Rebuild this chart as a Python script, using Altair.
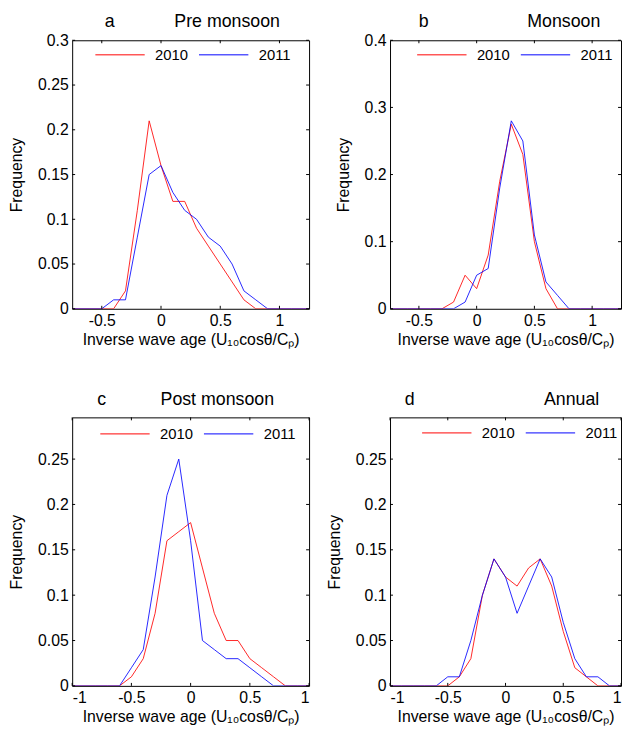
import altair as alt
import pandas as pd

# histogram bin centres (inverse wave age)
bins = [-1.0, -0.9, -0.8, -0.7, -0.6, -0.5, -0.4, -0.3, -0.2, -0.1, 0.0, 0.1, 0.2,
        0.3, 0.4, 0.5, 0.6, 0.7, 0.8, 0.9, 1.0, 1.1, 1.2, 1.3, 1.4, 1.5]

# a  Pre monsoon
pre_2010 = [0, 0, 0, 0, 0, 0, 0, 0.02, 0.11, 0.21, 0.16, 0.12, 0.12,
            0.09, 0.07, 0.05, 0.03, 0.01, 0, 0, 0, 0, 0, 0, 0, 0]
pre_2011 = [0, 0, 0, 0, 0, 0, 0.01, 0.01, 0.08, 0.15, 0.16, 0.13, 0.11,
            0.10, 0.08, 0.07, 0.05, 0.02, 0.01, 0, 0, 0, 0, 0, 0, 0]
# b  Monsoon
mon_2010 = [0, 0, 0, 0, 0, 0, 0, 0, 0.01, 0.05, 0.03, 0.08, 0.19,
            0.275, 0.23, 0.10, 0.03, 0, 0, 0, 0, 0, 0, 0, 0, 0]
mon_2011 = [0, 0, 0, 0, 0, 0, 0, 0, 0, 0.01, 0.05, 0.06, 0.18,
            0.28, 0.25, 0.11, 0.04, 0.02, 0, 0, 0, 0, 0, 0, 0, 0]
# c  Post monsoon
post_2010 = [0, 0, 0, 0, 0, 0.01, 0.03, 0.08, 0.16, 0.17, 0.18, 0.13, 0.08,
             0.05, 0.05, 0.03, 0.02, 0.01, 0, 0, 0, 0, 0, 0, 0, 0]
post_2011 = [0, 0, 0, 0, 0, 0.02, 0.04, 0.12, 0.21, 0.25, 0.16, 0.05, 0.04,
             0.03, 0.03, 0.02, 0.01, 0, 0, 0, 0, 0, 0, 0, 0, 0]
# d  Annual
ann_2010 = [0, 0, 0, 0, 0, 0, 0.01, 0.03, 0.10, 0.14, 0.12, 0.11, 0.13,
            0.14, 0.11, 0.06, 0.02, 0.01, 0, 0, 0, 0, 0, 0, 0, 0]
ann_2011 = [0, 0, 0, 0, 0, 0.01, 0.01, 0.05, 0.10, 0.14, 0.12, 0.08, 0.11,
            0.14, 0.12, 0.07, 0.03, 0.01, 0.01, 0, 0, 0, 0, 0, 0, 0]

years = ["2010", "2011"]
xticks_ab = [-0.5, 0, 0.5, 1]
xticks_cd = [-1, -0.5, 0, 0.5, 1]
yticks_a = [0, 0.05, 0.1, 0.15, 0.2, 0.25, 0.3]
yticks_b = [0, 0.1, 0.2, 0.3, 0.4]
yticks_cd = [0, 0.05, 0.1, 0.15, 0.2, 0.25]

XTITLE = "Inverse wave age (U\u2081\u2080cos\u03b8/C\u209a)"
FONT = "Liberation Sans"
H = 272
LABEL_EXPR = ("datum.value < 0 ? '-' + format(-datum.value, '~g') "
              ": format(datum.value, '~g')")


def panel(letter, name, s10, s11, xdom, ydom, xticks, yticks,
          letter_x, name_x, leg_x, leg_y, W):
    df = pd.DataFrame({
        "x": bins + bins,
        "y": s10 + s11,
        "year": [years[0]] * len(bins) + [years[1]] * len(bins),
    })
    xs = alt.Scale(domain=xdom, nice=False, zero=False)
    ys = alt.Scale(domain=ydom, nice=False, zero=False)
    lines = alt.Chart(df).mark_line(clip=True, strokeWidth=1, strokeOpacity=0.85).encode(
        x=alt.X("x:Q", scale=xs,
                axis=alt.Axis(values=xticks, labelExpr=LABEL_EXPR, title=XTITLE)),
        y=alt.Y("y:Q", scale=ys,
                axis=alt.Axis(values=yticks, format="~g", title="Frequency")),
        color=alt.Color("year:N",
                        scale=alt.Scale(domain=years, range=["#ff0000", "#0000ff"]),
                        legend=alt.Legend(title=None, orient="none", legendX=leg_x,
                                          legendY=leg_y, direction="horizontal",
                                          symbolType="stroke", symbolSize=2500,
                                          symbolStrokeWidth=1, labelFontSize=15,
                                          labelOffset=10, columnPadding=8,
                                          padding=0, labelColor="black")),
    )
    ytk = pd.DataFrame({"y": yticks})
    xtk = pd.DataFrame({"x": xticks})
    left_t = alt.Chart(ytk).mark_rule(color="black", strokeWidth=1).encode(
        y=alt.Y("y:Q", scale=ys), x=alt.value(0), x2=alt.value(3))
    right_t = alt.Chart(ytk).mark_rule(color="black", strokeWidth=1).encode(
        y=alt.Y("y:Q", scale=ys), x=alt.value(W - 3), x2=alt.value(W))
    bot_t = alt.Chart(xtk).mark_rule(color="black", strokeWidth=1).encode(
        x=alt.X("x:Q", scale=xs), y=alt.value(H - 3), y2=alt.value(H))
    top_t = alt.Chart(xtk).mark_rule(color="black", strokeWidth=1).encode(
        x=alt.X("x:Q", scale=xs), y=alt.value(0), y2=alt.value(3))
    t1 = alt.Chart(pd.DataFrame({"t": [letter]})).mark_text(
        fontSize=18, align="center", baseline="alphabetic", color="black").encode(
        text="t:N", x=alt.value(letter_x), y=alt.value(-13))
    t2 = alt.Chart(pd.DataFrame({"t": [name]})).mark_text(
        fontSize=18, align="center", baseline="alphabetic", color="black").encode(
        text="t:N", x=alt.value(name_x), y=alt.value(-13))
    return alt.layer(lines, left_t, right_t, bot_t, top_t, t1, t2).properties(
        width=W, height=H)


pa = panel("a", "Pre monsoon", pre_2010, pre_2011, [-0.75, 1.25], [0, 0.3],
           xticks_ab, yticks_a, 38, 157, 23, -11, 240)
pb = panel("b", "Monsoon", mon_2010, mon_2011, [-0.75, 1.25], [0, 0.4],
           xticks_ab, yticks_b, 34, 176, 27, -11, 234)
pc = panel("c", "Post monsoon", post_2010, post_2011, [-1, 1], [0, 0.296],
           xticks_cd, yticks_cd, 30, 147, 28, -9, 240)
pd_ = panel("d", "Annual", ann_2010, ann_2011, [-1, 1], [0, 0.296],
            xticks_cd, yticks_cd, 20, 184, 32, -10, 234)

row1 = alt.hconcat(pa, pb, spacing=25).resolve_scale(color="independent")
row2 = alt.hconcat(pc, pd_, spacing=16).resolve_scale(color="independent")

chart = alt.vconcat(row1, row2, spacing=42).resolve_scale(
    color="independent").properties(padding=0).configure(
    font=FONT).configure_view(stroke="black", strokeWidth=1).configure_axis(
    ticks=False, domain=False, grid=False, labelFontSize=16, titleFontSize=16,
    titleFontWeight="normal", labelColor="black", titleColor="black",
    labelPadding=4, titlePadding=13, labelFont=FONT, titleFont=FONT
).configure_axisX(titlePadding=3).configure_legend(labelFont=FONT)

chart.save("out.html", embed_options={"renderer": "svg", "actions": False})
